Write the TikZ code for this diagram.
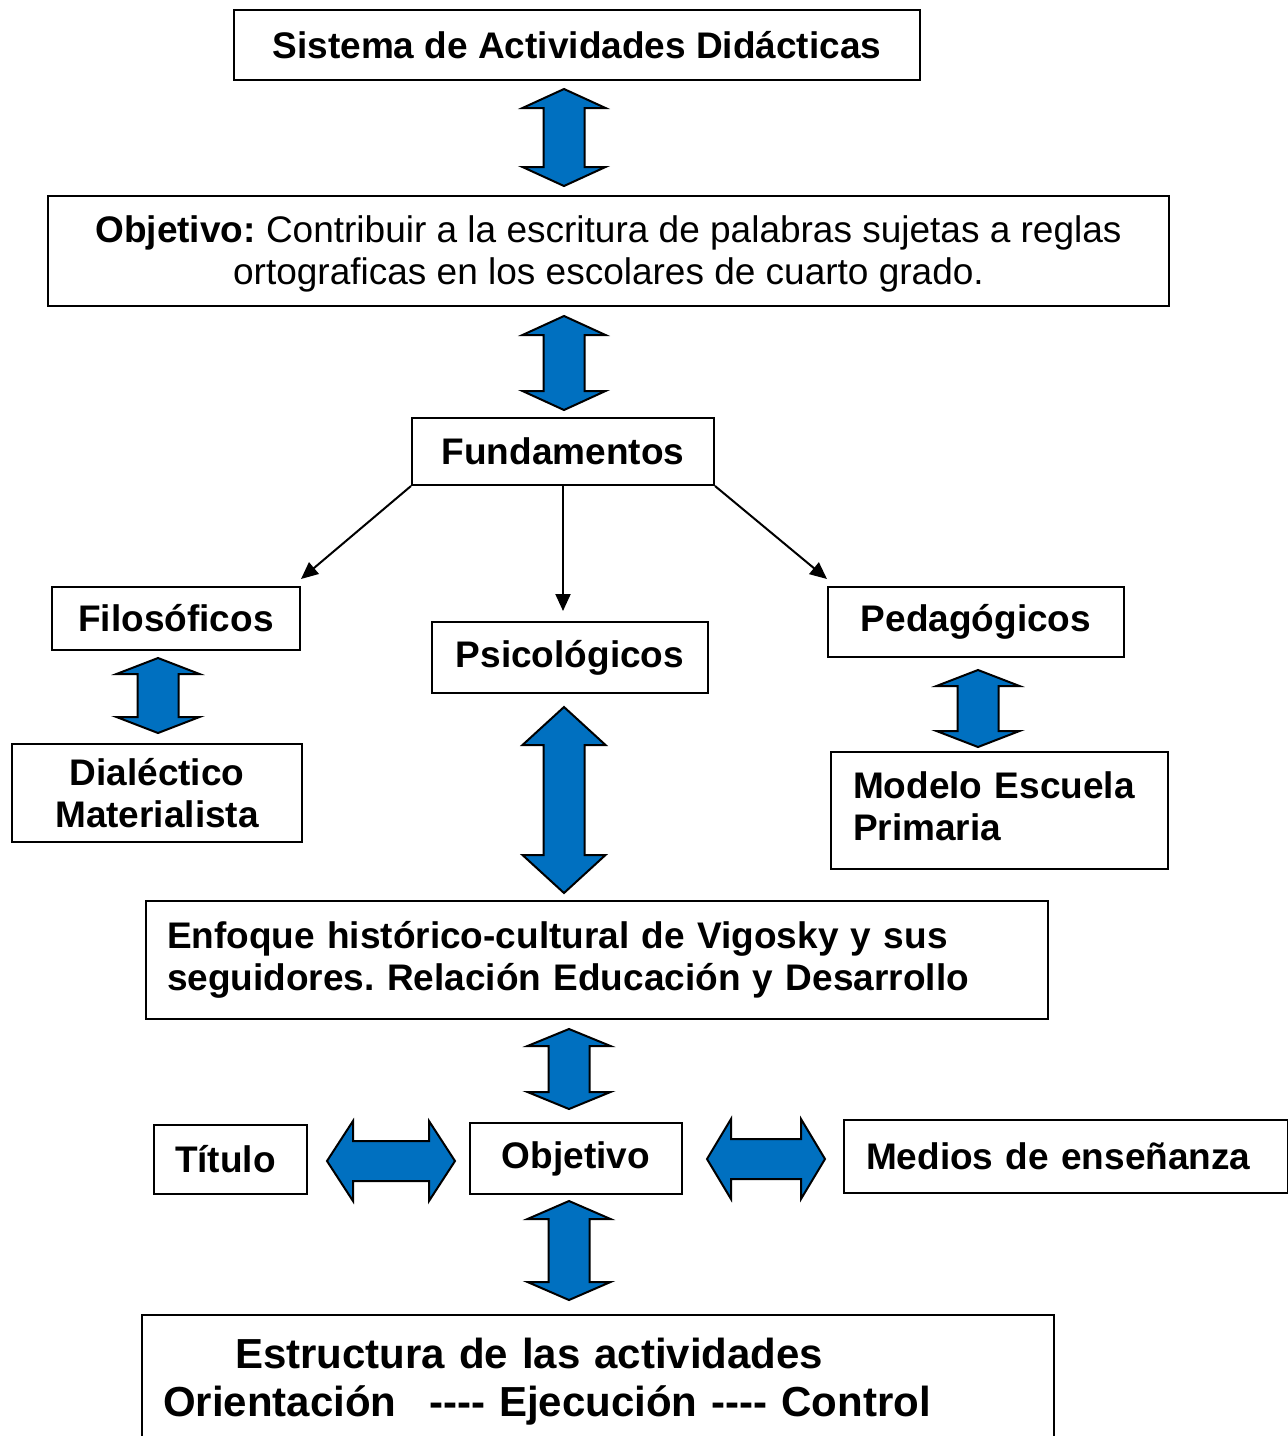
\documentclass[tikz,border=0pt]{standalone}
\usepackage{fontspec}
\setmainfont{Liberation Sans}
\usetikzlibrary{arrows.meta,calc}
\definecolor{arrowblue}{HTML}{0070C0}
\frenchspacing
\newcommand\vbarrow[4]{%
 \filldraw[barrow] ({#1},{#2}) -- ({#1+41.5},{#2+#4}) -- ({#1+20.5},{#2+#4}) -- ({#1+20.5},{#3-#4}) -- ({#1+41.5},{#3-#4}) -- ({#1},{#3}) -- ({#1-41.5},{#3-#4}) -- ({#1-20.5},{#3-#4}) -- ({#1-20.5},{#2+#4}) -- ({#1-41.5},{#2+#4}) -- cycle;}
\newcommand\hbarrow[4]{%
 \filldraw[barrow] ({#2},{#1}) -- ({#2+#4},{#1-40}) -- ({#2+#4},{#1-20}) -- ({#3-#4},{#1-20}) -- ({#3-#4},{#1-40}) -- ({#3},{#1}) -- ({#3-#4},{#1+40}) -- ({#3-#4},{#1+20}) -- ({#2+#4},{#1+20}) -- ({#2+#4},{#1+40}) -- cycle;}
\begin{document}
\begin{tikzpicture}[x=1pt,y=-1pt,
  box/.style={draw, line width=2pt, inner ysep=0pt, inner xsep=0pt, align=center,
    font=\bfseries\fontsize{37}{42.5}\selectfont},
  txt/.style={inner sep=0pt, align=center, font=\bfseries\fontsize{37}{42.5}\selectfont},
  barrow/.style={fill=arrowblue, draw=black, line width=2pt, line join=miter},
  thinarrow/.style={line width=2pt, -{Triangle[length=17pt,width=15pt]}}]
\fill[white] (0,0) rectangle (1288,1436);
\useasboundingbox (0,0) rectangle (1288,1436);

\node[box, minimum width=686, minimum height=70] (sist) at (577,45) {Sistema de Actividades Didácticas};
\node[box, minimum width=1121, minimum height=110] (obj) at (608.5,251) {};
\node[txt, font=\fontsize{37}{42.5}\selectfont] (objtxt) at ($(obj.center)+(0,3)$)
  {\textbf{Objetivo:} Contribuir a la escritura de palabras sujetas a reglas\\ortograficas en los escolares de cuarto grado.};
\node[box, minimum width=302, minimum height=67] (fund) at (563,451.5) {Fundamentos};
\node[box, minimum width=248, minimum height=63] (filo) at (176,618.5) {Filosóficos};
\node[box, minimum width=276, minimum height=71] (psico) at (570,657.5) {Psicológicos};
\node[box, minimum width=296, minimum height=70] (ped) at (976,622) {Pedagógicos};
\node[box, minimum width=290, minimum height=98] (dial) at (157,793) {Dialéctico\\Materialista};
\node[box, minimum width=337, minimum height=117] (modelo) at (999.5,810.5) {};
\node[txt, text width=293, align=left] (modelotxt) at ($(modelo.center)+(0,-4)$) {Modelo Escuela\\Primaria};
\node[box, minimum width=902, minimum height=118, inner xsep=21, text width=860, align=left] (enf) at (597,960)
  {Enfoque histórico-cultural de Vigosky y sus\\seguidores. Relación Educación y Desarrollo};
\node[box, minimum width=153, minimum height=69, inner xsep=21, text width=111, align=left] (tit) at (230.5,1159.5) {Título};
\node[box, minimum width=212, minimum height=71] (objb) at (576,1158.5) {Objetivo};
\node[box, minimum width=444, minimum height=73, inner xsep=22, text width=400, align=left] (medios) at (1066,1156.5) {Medios de enseñanza};
\node[box, minimum width=912, minimum height=134, inner xsep=21, text width=870, align=left,
  font=\bfseries\fontsize{42}{48}\selectfont] (estr) at (598,1382)
  {\hspace*{72pt}Estructura de las actividades\\Orientación\hspace{0.45em} -{}-{}-{}- Ejecución -{}-{}-{}- Control};

% thin arrows from Fundamentos
\draw[thinarrow] (fund.south west) -- ($(filo.north east)+(0,-7)$);
\draw[thinarrow] (fund.south) -- ($(fund.south |- psico.north)+(0,-10)$);
\draw[thinarrow] (fund.south east) -- ($(ped.north west)+(0,-7)$);

% block arrows
\vbarrow{564}{89}{186}{19}
\vbarrow{564}{316}{410}{19}
\vbarrow{158}{658}{733}{16}
\vbarrow{564}{707}{893}{38}
\vbarrow{978}{670}{747}{16}
\vbarrow{569}{1029}{1109}{17}
\vbarrow{569}{1201}{1300}{18}
\hbarrow{1161}{327}{455}{26}
\hbarrow{1159}{707}{825}{24}
\end{tikzpicture}
\end{document}
